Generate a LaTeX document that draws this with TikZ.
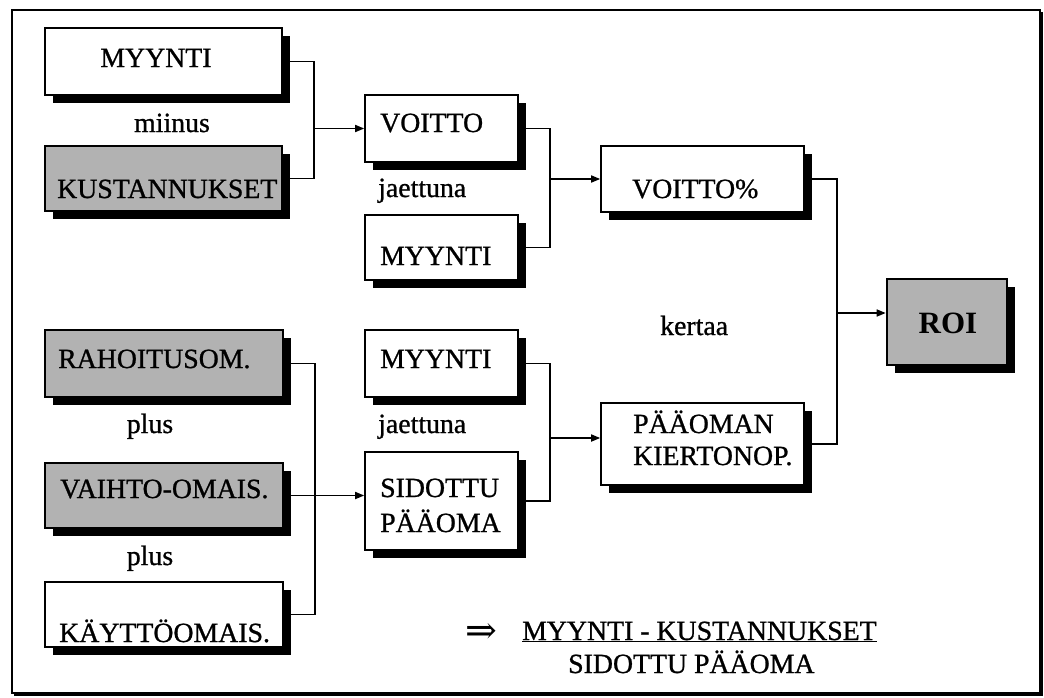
\documentclass[tikz,border=0pt]{standalone}
\usepackage{fontspec}
\setmainfont{Liberation Serif}
\newfontfamily\printface[FakeBold=0.9]{Liberation Serif}
\newfontfamily\symface{DejaVu Serif}
\usetikzlibrary{shadows,arrows.meta}
\definecolor{boxgray}{RGB}{178,178,178}
\tikzset{
  box/.style={draw, line width=1.6pt, inner sep=0pt, fill=white,
    drop shadow={shadow xshift=8pt, shadow yshift=-8pt, fill=black, opacity=1}},
  greybox/.style={box, fill=boxgray},
  lbl/.style={inner sep=0pt, font=\printface\fontsize{27.8}{32}\selectfont},
  wire/.style={line width=1.6pt},
  feed/.style={wire, -{Triangle[length=9pt,width=7pt]}},
}
\begin{document}
\begin{tikzpicture}[x=1pt,y=-1pt]
\useasboundingbox (0,0) rectangle (1044,697);
% outer frame
\draw[line width=2.5pt] (12,10) rectangle (1040,693);
\draw[line width=2pt] (1041.5,12) -- (1041.5,694.5) -- (14,694.5);

% boxes, left column
\node[box, minimum width=237pt, minimum height=67pt] (b1) at (163.5,61.5) {};
\node[greybox, minimum width=237pt, minimum height=65pt] (b2) at (163.5,178.5) {};
\node[greybox, minimum width=238pt, minimum height=67pt] (b7) at (164,363.5) {};
\node[greybox, minimum width=238pt, minimum height=65pt] (b8) at (164,495.5) {};
\node[box, minimum width=238pt, minimum height=65pt] (b9) at (164,614.5) {};
% boxes, middle column
\node[box, minimum width=153pt, minimum height=67pt] (b3) at (441.5,128.5) {};
\node[box, minimum width=153pt, minimum height=65pt] (b4) at (441.5,247.5) {};
\node[box, minimum width=153pt, minimum height=67pt] (b10) at (441.5,363.5) {};
\node[box, minimum width=153pt, minimum height=98pt] (b11) at (441.5,501) {};
% boxes, right column
\node[box, minimum width=203pt, minimum height=66pt] (b5) at (702.5,179) {};
\node[box, minimum width=203pt, minimum height=82pt] (b12) at (702.5,444) {};
\node[greybox, line width=2.6pt, minimum width=120pt, minimum height=86pt] (b6) at (947,322) {};

% box texts
\node[lbl, anchor=base] (t1) at (156,67) {MYYNTI};
\node[lbl, anchor=base west] (t2) at (57,198) {KUSTANNUKSET};
\node[lbl, anchor=base west] (t3) at (380,132) {VOITTO};
\node[lbl, anchor=base west] (t4) at (380,265) {MYYNTI};
\node[lbl, anchor=base west] (t5) at (632,198) {VOITTO\%};
\node[lbl, font=\bfseries\fontsize{31}{36}\selectfont, anchor=base] (t6) at (948,333) {ROI};
\node[lbl, anchor=base west] (t7) at (58,368) {RAHOITUSOM.};
\node[lbl, anchor=base west] (t8) at (60,498) {VAIHTO-OMAIS.};
\node[lbl, anchor=base west] (t9) at (59,642) {KÄYTTÖOMAIS.};
\node[lbl, anchor=base west] (t10) at (380,368) {MYYNTI};
\node[lbl, anchor=base west] (t11a) at (380,497) {SIDOTTU};
\node[lbl, anchor=base west] (t11b) at (380,532) {PÄÄOMA};
\node[lbl, anchor=base west] (t12a) at (633,433) {PÄÄOMAN};
\node[lbl, anchor=base west] (t12b) at (633,465) {KIERTONOP.};

% operation words
\node[lbl, anchor=base] (op1) at (172,132) {miinus};
\node[lbl, anchor=base west] (op2) at (378,197) {jaettuna};
\node[lbl, anchor=base west] (op3) at (660,335) {kertaa};
\node[lbl, anchor=base] (op4) at (150,433) {plus};
\node[lbl, anchor=base] (op5) at (150,565) {plus};
\node[lbl, anchor=base west] (op6) at (378,433) {jaettuna};

% connectors
\coordinate (j1) at (314,128.5);
\draw[wire] (b1.east) -| (j1) |- (b2.east);
\draw[feed] (j1) -- (b3.west);

\coordinate (j2) at (550,179);
\draw[wire] (b3.east) -| (j2) |- (b4.east);
\draw[feed] (j2) -- (b5.west);

\coordinate (j3) at (837,313);
\draw[wire] (b5.east) -| (j3) |- (b12.east);
\draw[feed] (j3) -- (j3 -| b6.west);

\coordinate (j4) at (315,495);
\draw[wire] (b7.east) -| (j4) |- (b9.east);
\draw[feed] (b8.east) -- (b8.east -| b11.west);

\coordinate (j5) at (550,438);
\draw[wire] (b10.east) -| (j5) |- (b11.east);
\draw[feed] (j5) -- (j5 -| b12.west);

% resulting formula
\node[inner sep=0pt, font=\symface\fontsize{38}{42}\selectfont, anchor=center] (impl) at (481,633) {⇒};
\node[lbl, anchor=base west] (num) at (522,640) {\underline{MYYNTI - KUSTANNUKSET}};
\node[lbl, anchor=base west] (den) at (568,673) {SIDOTTU PÄÄOMA};
\end{tikzpicture}
\end{document}
